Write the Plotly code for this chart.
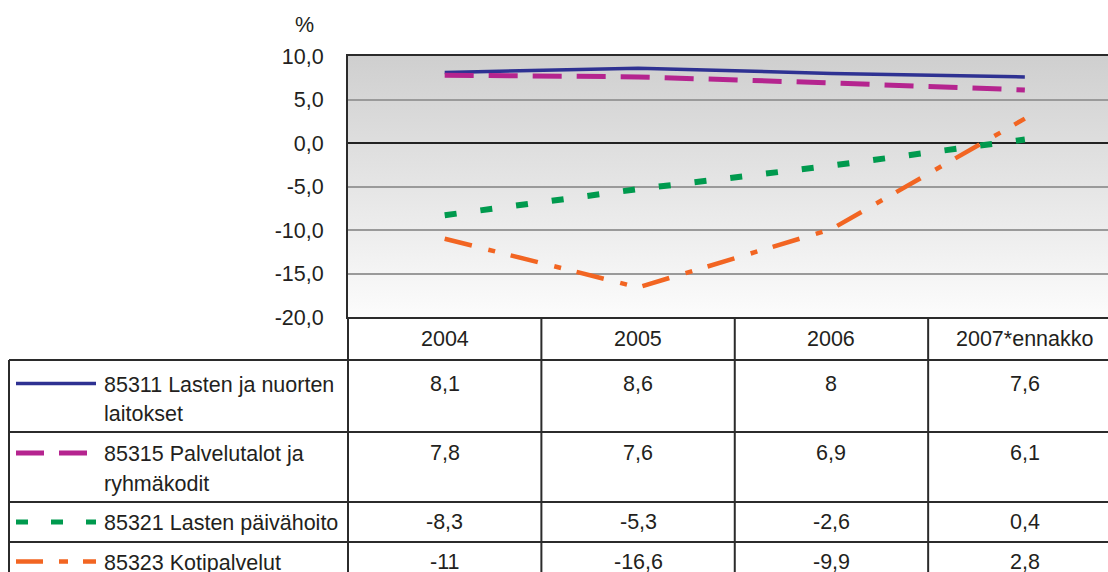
import base64
import plotly.graph_objects as go

# ---------------- data ----------------
years = ["2004", "2005", "2006", "2007*ennakko"]
series_names = [
    "85311 Lasten ja nuorten<br>laitokset",
    "85315 Palvelutalot ja<br>ryhmäkodit",
    "85321 Lasten päivähoito",
    "85323 Kotipalvelut",
]
s85311 = [8.1, 8.6, 8.0, 7.6]
s85315 = [7.8, 7.6, 6.9, 6.1]
s85321 = [-8.3, -5.3, -2.6, 0.4]
s85323 = [-11.0, -16.6, -9.9, 2.8]
y_ticks = [10, 5, 0, -5, -10, -15, -20]
y_unit = "%"

series_values = [s85311, s85315, s85321, s85323]
colors = ["#2E3192", "#B5248F", "#009A4E", "#F26522"]
dashes = ["solid", "29px,15px", "12px,24px", "28px,17px,7px,16px"]
widths = [3.5, 5, 6, 4.5]
legend_dashes = ["solid", "28px,15px", "12px,23px", "27px,16px,9px,15px"]

FONT = "Liberation Sans, Arial, sans-serif"
TXT = "#231F20"
FS = 21.5
LINE = "#2B2B2B"

# layout geometry (pixels)
W, H = 1108, 572
ML, MR, MT, MB = 348, 0, 56, 255
PW = W - ML - MR
PH = H - MT - MB
XR = [-0.5, 3.43]


def px2paper(px):
    return (px - ML) / PW


def py2paper(py):
    return (H - MB - py) / PH


def xval2paper(v):
    return (v - XR[0]) / (XR[1] - XR[0])


def fmt(v):
    return f"{v:g}".replace(".", ",")


fig = go.Figure()
for name, vals, c, d, w in zip(series_names, series_values, colors, dashes, widths):
    fig.add_trace(go.Scatter(
        x=years, y=vals, mode="lines", name=name.replace("<br>", " "),
        line=dict(color=c, dash=d, width=w), showlegend=False,
    ))

# gradient background of the plot area
svg = ('<svg xmlns="http://www.w3.org/2000/svg" width="100" height="100" viewBox="0 0 100 100" '
       'preserveAspectRatio="none"><defs><linearGradient id="g" x1="0" y1="0" x2="0" y2="1">'
       '<stop offset="0" stop-color="#cfcfcf"/><stop offset="0.45" stop-color="#e3e3e3"/>'
       '<stop offset="1" stop-color="#fcfcfc"/></linearGradient></defs>'
       '<rect width="100" height="100" fill="url(#g)"/></svg>')
src = "data:image/svg+xml;base64," + base64.b64encode(svg.encode()).decode()

shapes = []
annotations = []

# table grid
row_lines_px = [360, 432, 502, 542]
bottom = -1.2
for py in row_lines_px:
    shapes.append(dict(type="line", xref="paper", yref="paper",
                       x0=px2paper(9), x1=1.05, y0=py2paper(py), y1=py2paper(py),
                       line=dict(color=LINE, width=2)))
shapes.append(dict(type="line", xref="paper", yref="paper",
                   x0=px2paper(9), x1=px2paper(9), y0=py2paper(360), y1=bottom,
                   line=dict(color=LINE, width=2)))
for b in [XR[0], 0.5, 1.5, 2.5]:
    xb = xval2paper(b)
    shapes.append(dict(type="line", xref="paper", yref="paper",
                       x0=xb, x1=xb, y0=0, y1=bottom,
                       line=dict(color=LINE, width=2)))

# header (category index positions on the x axis)
for i, yr in enumerate(years):
    annotations.append(dict(x=i, y=py2paper(339), xref="x", yref="paper", text=yr,
                            showarrow=False, xanchor="center", yanchor="middle",
                            font=dict(family=FONT, size=FS, color=TXT)))

row_centers = [384.5, 454, 523, 562.5]
line_gap = 29.5
for name, vals, c, ld, w, yc in zip(series_names, series_values, colors, legend_dashes, widths, row_centers):
    # legend sample
    shapes.append(dict(type="line", xref="paper", yref="paper",
                       x0=px2paper(16), x1=px2paper(96),
                       y0=py2paper(yc - 1), y1=py2paper(yc - 1),
                       line=dict(color=c, width=min(w, 5), dash=ld)))
    for i, part in enumerate(name.split("<br>")):
        annotations.append(dict(x=px2paper(102), y=py2paper(yc + i * line_gap), xref="paper", yref="paper",
                                text=part, showarrow=False, xanchor="left", yanchor="middle",
                                font=dict(family=FONT, size=FS, color=TXT)))
    for i, v in enumerate(vals):
        annotations.append(dict(x=i, y=py2paper(yc - 1), xref="x", yref="paper", text=fmt(v),
                                showarrow=False, xanchor="center", yanchor="middle",
                                font=dict(family=FONT, size=FS, color=TXT)))

# unit label
annotations.append(dict(x=px2paper(304), y=py2paper(25), xref="paper", yref="paper",
                        text=y_unit, showarrow=False, xanchor="center", yanchor="middle",
                        font=dict(family=FONT, size=FS, color=TXT)))

fig.update_layout(
    width=W, height=H,
    margin=dict(l=ML, r=MR, t=MT, b=MB, pad=0),
    paper_bgcolor="white",
    plot_bgcolor="rgba(0,0,0,0)",
    font=dict(family=FONT, size=FS, color=TXT),
    images=[dict(source=src, xref="paper", yref="paper", x=0, y=1, sizex=1, sizey=1,
                 sizing="stretch", layer="below", xanchor="left", yanchor="top")],
    shapes=shapes,
    annotations=annotations,
    xaxis=dict(type="category", range=XR, showticklabels=False, showgrid=False,
               showline=True, mirror=True, linecolor=LINE, linewidth=2, ticks="", zeroline=False),
    yaxis=dict(range=[-20, 10], tickvals=y_ticks, ticktext=[f"{v:.1f}".replace(".", ",") for v in y_ticks],
               showgrid=True, gridcolor="#9A9A9A", gridwidth=1.5,
               zeroline=True, zerolinecolor="#222222", zerolinewidth=2,
               showline=True, linecolor=LINE, linewidth=2,
               ticks="outside", ticklen=18, tickcolor="rgba(0,0,0,0)",
               tickfont=dict(family=FONT, size=FS, color=TXT)),
)

fig.write_html("out.html", config={"displayModeBar": False},
               post_script="document.body.style.margin='0';document.body.style.overflow='hidden';")
